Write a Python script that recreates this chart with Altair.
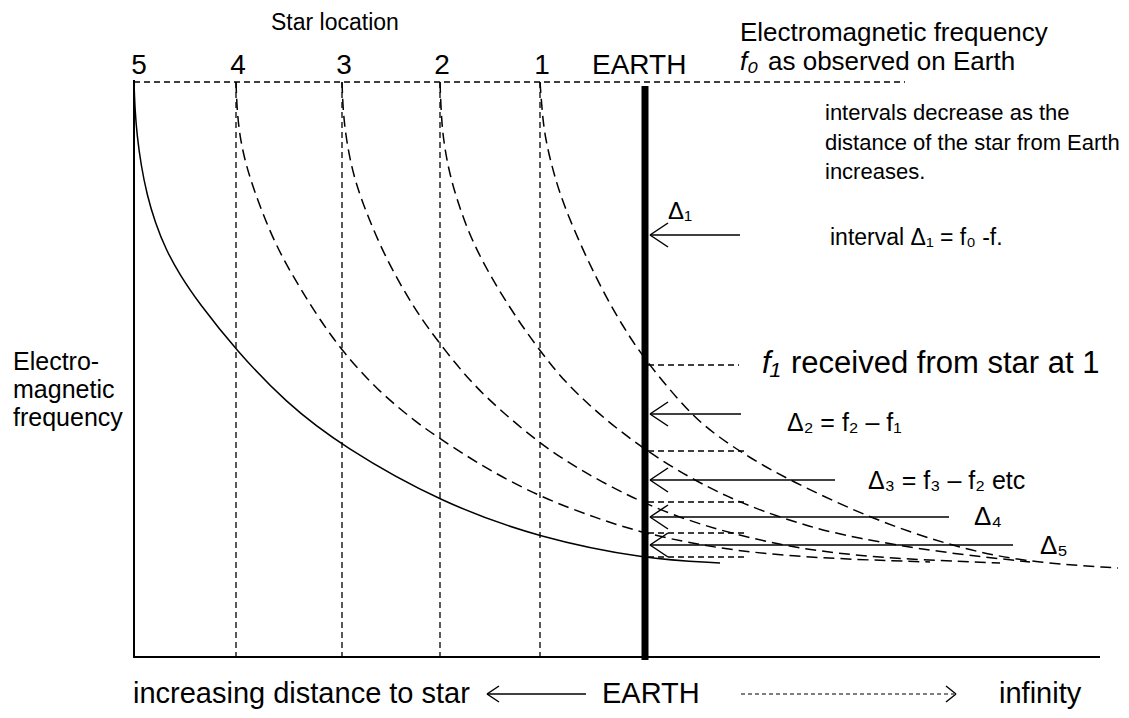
import altair as alt
import pandas as pd

# ---------------- diagram data ----------------
X_DOMAIN = [8, 1121]
Y_DOMAIN = [8, 710]

star_labels = ["5", "4", "3", "2", "1"]
star_x = [134, 236, 342, 440, 540]
earth_x = 645
top_y = 82
bottom_y = 657

# frequency curves received at each distance (solid = star 5, dashed = stars 4..1)
c5_x = [134, 135, 137, 141, 147, 155, 166, 180, 198, 236, 285, 343, 442, 540, 645, 720]
c5_y = [82, 110, 135, 165, 195, 222, 250, 275, 302, 350, 402, 447, 503, 538, 559, 563]

c4_x = [236, 237, 240, 246, 255, 268, 282, 300, 320, 343, 377, 417, 442, 485, 540, 596, 645, 735, 836, 930]
c4_y = [82, 110, 138, 165, 193, 227, 257, 288, 320, 352, 390, 423, 440, 468, 497, 518, 534, 552, 559, 562]

c3_x = [342, 343, 346, 353, 366, 380, 394, 410, 427, 458, 485, 535, 569, 600, 645, 700, 769, 836, 920, 1000]
c3_y = [82, 110, 138, 175, 212, 245, 273, 301, 327, 367, 397, 440, 463, 481, 504, 525, 543, 554, 560, 563]

c2_x = [440, 441, 443, 449, 458, 470, 485, 500, 518, 535, 552, 569, 603, 645, 690, 728, 762, 810, 856, 937, 1030]
c2_y = [82, 110, 138, 172, 203, 236, 266, 292, 320, 344, 366, 386, 418, 450, 478, 497, 511, 527, 538, 552, 562]

c1_x = [540, 542, 545, 554, 566, 596, 623, 645, 689, 717, 750, 789, 867, 947, 1022, 1118]
c1_y = [82, 110, 138, 175, 212, 279, 327, 360, 413, 436, 458, 480, 517, 545, 562, 568]

# arrows pointing at the Earth line (tip y, tail x)
arrow_y = [235, 414, 480, 517, 545]
arrow_tail_x = [740, 741, 835, 949, 1013]
arrow_tip_x = 650

# short dashed markers of received frequencies at Earth
mark_y = [365, 451, 502, 533, 557]
mark_x_end = [739, 748, 747, 748, 747]

# ---------------- build tables ----------------
xs = alt.Scale(domain=X_DOMAIN)
ys = alt.Scale(domain=Y_DOMAIN, reverse=True)


def seg_chart(df, **mark):
    return alt.Chart(df).mark_rule(color="black", **mark).encode(
        x=alt.X("x:Q", scale=xs, axis=None),
        x2="x2:Q",
        y=alt.Y("y:Q", scale=ys, axis=None),
        y2="y2:Q",
    )


def curve_chart(xv, yv, dash=None):
    df = pd.DataFrame({"x": xv, "y": yv, "o": list(range(len(xv)))})
    mark = dict(color="black", strokeWidth=1.5, interpolate="basis")
    if dash:
        mark["strokeDash"] = dash
    return alt.Chart(df).mark_line(**mark).encode(
        x=alt.X("x:Q", scale=xs, axis=None),
        y=alt.Y("y:Q", scale=ys, axis=None),
        order="o:Q",
    )


def text_chart(rows, **mark):
    df = pd.DataFrame(rows, columns=["x", "y", "t", "s"])
    return alt.Chart(df).mark_text(
        font="Liberation Sans", color="black", baseline="middle", **mark
    ).encode(
        x=alt.X("x:Q", scale=xs, axis=None),
        y=alt.Y("y:Q", scale=ys, axis=None),
        text="t:N",
        size=alt.Size("s:Q", scale=None, legend=None),
    )


axis_df = pd.DataFrame({
    "x": [star_x[0], 133], "x2": [star_x[0], 1100],
    "y": [top_y - 2, bottom_y], "y2": [bottom_y, bottom_y],
})

earth_df = pd.DataFrame({"x": [earth_x], "x2": [earth_x], "y": [86], "y2": [bottom_y + 3]})

dash_rows = [(star_x[0], 905, top_y, top_y)]
for sx in star_x[1:]:
    dash_rows.append((sx, sx, top_y, bottom_y))
for my, mx in zip(mark_y, mark_x_end):
    dash_rows.append((earth_x + 3, mx, my, my))
dash_df = pd.DataFrame(dash_rows, columns=["x", "x2", "y", "y2"])

arr_rows = []
WDX, WDY = 18, 12
for ay, tx in zip(arrow_y, arrow_tail_x):
    arr_rows.append((arrow_tip_x, tx, ay, ay))
    arr_rows.append((arrow_tip_x, arrow_tip_x + WDX, ay, ay - WDY))
    arr_rows.append((arrow_tip_x, arrow_tip_x + WDX, ay, ay + WDY))
BY = 694
arr_rows.append((487, 586, BY, BY))
arr_rows.append((487, 499, BY, BY - 8))
arr_rows.append((487, 499, BY, BY + 8))
arr_rows.append((956, 946, BY, BY - 8))
arr_rows.append((956, 946, BY, BY + 8))
arr_df = pd.DataFrame(arr_rows, columns=["x", "x2", "y", "y2"])
bottom_dash_df = pd.DataFrame({"x": [741], "x2": [954], "y": [BY], "y2": [BY]})

plain_texts = [
    (271, 23, "Star location", 23),
    (592, 66, "EARTH", 28),
    (740, 33, "Electromagnetic frequency", 26),
    (768, 62, "as observed on Earth", 26),
    (825, 113, "intervals decrease as the", 22),
    (825, 143, "distance of the star from Earth", 22),
    (825, 172, "increases.", 22),
    (668, 212, "Δ₁", 24),
    (830, 238, "interval Δ₁ = f₀ -f.", 23),
    (791, 364, "received from star at 1", 31),
    (787, 423, "Δ₂ = f₂ – f₁", 25),
    (868, 481, "Δ₃ = f₃ – f₂ etc", 25),
    (974, 517, "Δ₄", 26),
    (1040, 546, "Δ₅", 26),
    (13, 362, "Electro-", 25),
    (13, 390, "magnetic", 25),
    (13, 418, "frequency", 25),
    (133, BY, "increasing distance to star", 29),
    (602, BY, "EARTH", 29),
    (999, BY, "infinity", 29),
]
italic_texts = [
    (740, 62, "f₀", 26),
    (762, 364, "f₁", 31),
]
star_texts = [(sx + (5 if i == 0 else 2), 66, lab, 28) for i, (sx, lab) in enumerate(zip(star_x, star_labels))]

layers = [
    seg_chart(dash_df, strokeWidth=1.3, strokeDash=[6, 4]),
    curve_chart(c1_x, c1_y, [11, 6]),
    curve_chart(c2_x, c2_y, [11, 6]),
    curve_chart(c3_x, c3_y, [11, 6]),
    curve_chart(c4_x, c4_y, [11, 6]),
    curve_chart(c5_x, c5_y),
    seg_chart(axis_df, strokeWidth=2),
    seg_chart(earth_df, strokeWidth=7),
    seg_chart(arr_df, strokeWidth=1.5),
    seg_chart(bottom_dash_df, strokeWidth=1.2, strokeDash=[4, 3]),
    text_chart(plain_texts, align="left"),
    text_chart(italic_texts, align="left", fontStyle="italic"),
    text_chart(star_texts, align="center"),
]

chart = alt.layer(*layers).properties(
    width=1113, height=702, padding=0, autosize="none"
).configure_view(stroke=None)

chart.save("out.html", embed_options={"renderer": "svg", "actions": False})
